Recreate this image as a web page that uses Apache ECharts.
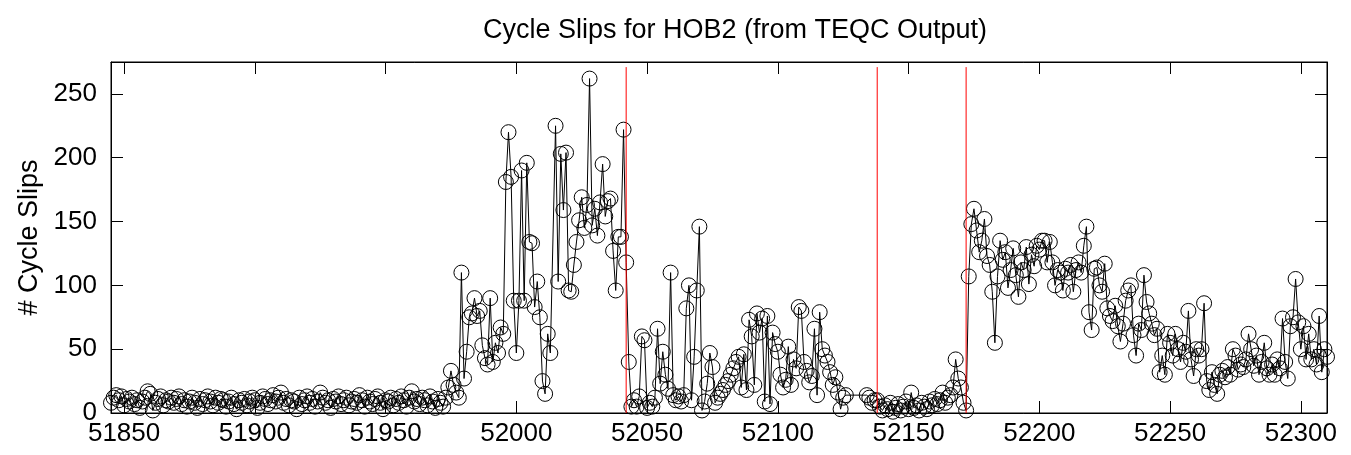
<!DOCTYPE html>
<html>
<head>
<meta charset="utf-8">
<script src="https://cdn.jsdelivr.net/npm/echarts@6/dist/echarts.min.js"></script>
<style>
  html, body { margin: 0; padding: 0; background: #fff; }
  #chart { width: 1351px; height: 455px; }
</style>
</head>
<body>
<div id="chart"></div>
<script>
// Daily cycle-slip counts (MJD), split into stretches; null = no file that day.
const quietStart = 51845;
const quietSlips = [
  8, 12, 14, 10, 13, 6, 11, 9, 12, 7,
  10, 4, 9, 12, 17, 15, 2, 8, 11, 13,
  6, 10, 9, 12, 8, 11, 13, 7, 10, 5,
  9, 12, 8, 4, 11, 7, 10, 13, 9, 6,
  12, 8, 11, 10, 5, 9, 12, 7, 3, 10,
  8, 11, 6, 9, 12, 10, 4, 8, 13, 11,
  7, 10, 14, 9, 12, 16, 8, 11, 6, 10,
  9, 3, 12, 7, 10, 13, 8, 11, 5, 9,
  16, 12, 8, 10, 4, 11, 9, 13, 7, 10,
  12, 6, 9, 11, 8, 14, 10, 5, 12, 9,
  7, 11, 13, 8, 3, 10, 9, 12, 6, 11,
  8, 13, 10, 5, 12, 17, 9, 11, 7, 12,
  10, 6, 13, 9, 4, 11, 8, 5, 12, 20
];

const burstStart = 51975;
const burstSlips = [
  33, 22, 16, 12, 110, 27, 48, 75, 78, 90,
  76, 80, 53, 43, 38, 90, 40, 55, 47, 67,
  62, 181, 220, 185, 88, 47, 88, 190, 88, 196,
  134, 133, 83, 103, 75, 25, 15, 62, 47, null,
  225, 103, 203, 159, 204, 96, 95, 116, 134, 151,
  169, 145, 163, 262, 147, 160, 139, 165, 195, 154,
  166, 168, 127, 96, 138, 138, 222, 118, 40
];

const midStart = 52044;
const midSlips = [
  5, 10, 5, 13, 60, 57, 4, 8, 5, 12,
  66, 23, 48, 30, 19, 110, 14, 10, 13, 9,
  14, 82, 100, 10, 44, 96, 146, 2, 9, 23,
  47, 36, 8, 12, 15, 18, 22, 25, 30, 35,
  40, 44, 20, 46, 18, 73, 60, 22, 78, 63,
  74, 9, 76, 7, 63, 54, 48, 30, 20, 26,
  52, 22, 42, 35, 83, 80, 40, 33, 24, 29,
  66, 14, 79, 50, 45, 40, 32, 22, 28, 16,
  3, 12, 14
];

const lowStart = 52134;
const lowSlips = [
  14, 12, 8, 10, 10, 5, 2, 6, 3, 8,
  1, 4, 7, 2, 5, 9, 3, 16, 4, 6,
  2, 8, 5, 3, 9, 6, 11, 7, 10, 16,
  8, 12, 14, 20, 42, 27, 20, 8, 2
];

const lateStart = 52173;
const lateSlips = [
  107, 148, 160, 143, 126, 135, 152, 123, 116, 95,
  55, 107, 135, 120, 126, 98, 112, 129, 108, 91,
  118, 112, 130, 101, 124, 115, 131, 128, 135, 135,
  118, 134, 118, 100, 112, 110, 96, 113, 110, 116,
  95, 112, 118, 110, 131, 146, 79, 65, 113, 114,
  100, 95, 117, 82, 76, 72, 84, 68, 56, 70,
  88, 96, 100, 61, 45, 70, 65, 108, 87, 78,
  70, 61, 66, 32, 45, 30, 62, 55, 45, 62,
  50, 40, 55, 48, 80, 42, 29, 50, 45, 50,
  86, 25, 18, 32, 22, 15, 30, 33, 28, 36,
  30, 50, 45, 34, 38, 36, 42, 62, 50, 37,
  45, 30, 40, 55, 35, 30, 38, 30, 42, 35,
  74, 40, 27, 68, 75, 105, 71, 50, 68, 42,
  62, 42, 50, 38, 76, 32, 50, 44
];

// Receiver/antenna change epochs (MJD) and the height the markers reach
const changeEpochs = [52042, 52138, 52172];
const changeTop = 271;

const xTicks = [51850, 51900, 51950, 52000, 52050, 52100, 52150, 52200, 52250, 52300];
const xMin = 51845, xMax = 52310;
const yMin = 0, yMax = 275, yStep = 50;

function toPoints(start, values) {
  const out = [];
  values.forEach(function (v, i) { if (v !== null) out.push([start + i, v]); });
  return out;
}

const points = [].concat(
  toPoints(quietStart, quietSlips),
  toPoints(burstStart, burstSlips),
  toPoints(midStart, midSlips),
  toPoints(lowStart, lowSlips),
  toPoints(lateStart, lateSlips)
);

const FONT = '"Liberation Sans", Arial, Helvetica, sans-serif';
const black = '#000';

function xAxisDef(pos, labels) {
  return {
    type: 'value', position: pos, min: xMin, max: xMax,
    axisLine: { show: true, onZero: false, lineStyle: { color: black, width: 1 } },
    axisTick: { show: true, inside: true, length: 12, customValues: xTicks, lineStyle: { color: black } },
    axisLabel: {
      show: labels, customValues: xTicks, color: black, fontSize: 26, fontFamily: FONT, margin: 8,
      formatter: function (v) { return String(v); }
    },
    splitLine: { show: false }
  };
}
function yAxisDef(pos, labels) {
  const a = {
    type: 'value', position: pos, min: yMin, max: yMax, interval: yStep,
    axisLine: { show: true, onZero: false, lineStyle: { color: black, width: 1 } },
    axisTick: { show: true, inside: true, length: 12, lineStyle: { color: black } },
    axisLabel: { show: labels, showMaxLabel: false, color: black, fontSize: 26, fontFamily: FONT, margin: 14 },
    splitLine: { show: false }
  };
  if (labels) {
    a.name = '# Cycle Slips';
    a.nameLocation = 'middle';
    a.nameGap = 68;
    a.nameTextStyle = { color: black, fontSize: 27, fontFamily: FONT };
  }
  return a;
}

const series = [{
  type: 'line',
  data: points,
  symbol: 'circle',
  symbolSize: 15,
  showSymbol: true,
  silent: true,
  z: 2,
  lineStyle: { color: black, width: 1 },
  itemStyle: { color: 'rgba(0,0,0,0)', borderColor: black, borderWidth: 1 }
}];
changeEpochs.forEach(function (d) {
  series.push({
    type: 'line',
    data: [[d, 0], [d, changeTop]],
    showSymbol: false,
    silent: true,
    z: 5,
    lineStyle: { color: '#ff0000', width: 1 },
    itemStyle: { color: '#ff0000' }
  });
});

const chart = echarts.init(document.getElementById('chart'), null, { renderer: 'canvas' });
chart.setOption({
  animation: false,
  backgroundColor: '#fff',
  title: {
    text: 'Cycle Slips for HOB2 (from TEQC Output)',
    left: 730, top: 12, textAlign: 'center',
    textStyle: { color: black, fontSize: 27, fontWeight: 'normal', fontFamily: FONT }
  },
  grid: { left: 111, right: 24, top: 62, bottom: 42, show: true, borderColor: black, borderWidth: 1 },
  xAxis: [xAxisDef('bottom', true), xAxisDef('top', false)],
  yAxis: [yAxisDef('left', true), yAxisDef('right', false)],
  series: series
});
</script>
</body>
</html>
